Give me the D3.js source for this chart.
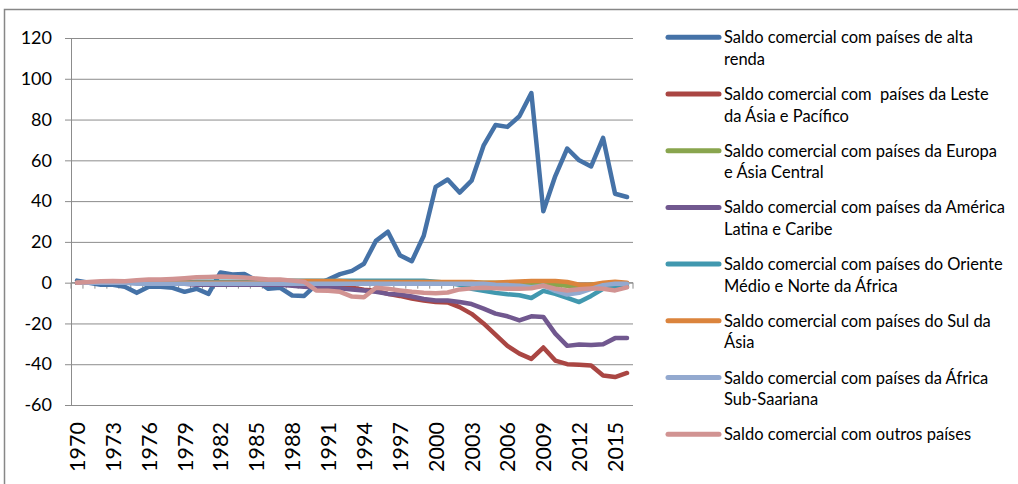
<!DOCTYPE html>
<html>
<head>
<meta charset="utf-8">
<script src="https://cdn.jsdelivr.net/npm/d3@7"></script>
<style>
  html, body { margin: 0; padding: 0; background: #fff; }
  svg { display: block; font-family: Lato, "Open Sans", sans-serif; }
</style>
</head>
<body>
<svg id="chart" width="1018" height="484"></svg>
<script>
// Anos do eixo horizontal (1970–2016)
const years = d3.range(1970, 2017);
const yTicks = [-60, -40, -20, 0, 20, 40, 60, 80, 100, 120];

// Saldo comercial por grupo de países (um valor por ano)
const altaRenda = [1, 0, -1, -1, -2, -5, -2, -2, -2.5, -4.5,
  -3, -5.5, 5, 4, 4.3, 1, -3, -2.5, -6.3, -6.5,
  -1, 1.5, 4.2, 5.8, 9.3, 20.5, 25, 13.5, 10.5, 23,
  47, 50.6, 44.2, 50, 67.2, 77.3, 76.4, 81.6, 93, 35,
  52.3, 65.8, 60, 57, 71, 43.6, 42];
const lesteAsia = [0, 0, 0, 0, 0, 0, 0, 0, 0, 0,
  0, 0, 0, 0, 0, 0, -0.5, -0.5, -0.5, -0.5,
  -0.5, -1, -1.5, -2.5, -3.5, -4, -5.5, -6.5, -7.8, -8.8,
  -9.5, -9.7, -12, -15.3, -20, -25.5, -31, -34.8, -37.4, -31.8,
  -38.2, -40, -40.3, -40.6, -45.5, -46.3, -44.3];
const europaAsiaCentral = [0, 0, 0, 0, 0, 0, 0, 0, 0, 0,
  0, 0, 0, 0, 0, 0, 0, 0, 0, 0,
  0, 0, 0, 0, 0, 0, 0, 0, 0, 0,
  0, 0, 0, 0, 0, 0, 0, -0.5, -1, -1.5,
  -1, -1.5, -2, -1, -0.5, -1.5, -1];
const americaLatina = [0, 0, 0, 0, 0, 0, -0.5, -0.5, -0.5, -0.5,
  -1, -1, -1, -1, -1, -1, -1, -1, -1.5, -2,
  -2.2, -2.3, -2.8, -3.3, -3.8, -4.5, -5.5, -5.8, -6.8, -8,
  -8.7, -8.7, -9.5, -10.5, -12.7, -15.2, -16.5, -18.5, -16.5, -16.8,
  -25, -31, -30.3, -30.6, -30.2, -27.2, -27.2];
const orienteMedio = [0, 0, 0, 0, 0, 0, 0, 0, 0, 0,
  0.5, 0.5, 0.5, 0.5, 0.5, 0.5, 1, 1, 1, 1,
  1, 1, 1, 1, 1, 1, 1, 1, 1, 1,
  0.5, 0, -1, -3, -4, -5, -5.7, -6.2, -7.5, -4,
  -5.5, -7.5, -9.5, -6.5, -3, -2, -2];
const sulAsia = [0, 0, 0, 0, 0, 0, 0, 0, 0, 0,
  0, 0, 0, 0, 0, 0, 0.8, 0.8, 0.8, 0.8,
  0.8, 0.8, 0.8, 0.3, 0.3, 0.3, 0.3, 0.3, 0.3, 0.3,
  0.3, 0.3, 0.3, 0.3, 0, 0, 0.3, 0.6, 0.8, 0.8,
  0.8, 0.3, -1, -1, 0, 0.5, 0];
const africaSubsaariana = [0, 0, 0, 0, 0, -0.5, -0.5, -0.5, -0.5, -0.5,
  -0.5, -0.5, -0.5, -0.5, -0.5, -0.5, -0.5, -0.5, -0.5, -0.5,
  -0.5, -0.5, -0.5, -0.5, -0.5, -0.5, -0.5, -0.5, -0.5, -0.5,
  -0.5, -0.5, -0.5, -0.5, -0.5, -1, -1.2, -1.5, -2.2, -1.5,
  -4, -5.8, -5, -3, -1.2, -0.5, -0.5];
const outros = [0, 0.3, 0.7, 0.8, 0.7, 1.2, 1.5, 1.5, 1.8, 2.2,
  2.6, 2.8, 3, 2.8, 2.5, 2, 1.5, 1.5, 1, 0.5,
  -3.8, -4, -4.5, -6.8, -7.2, -2.5, -3, -3.8, -4.5, -5,
  -5.2, -4.8, -3.3, -2.8, -2.5, -2.8, -3, -3, -2.8, -1.5,
  -3, -3.8, -3.2, -2.8, -3, -3.8, -2.3];

const seriesNames = [
  ["Saldo comercial com países de alta", "renda"],
  ["Saldo comercial com  países da Leste", "da Ásia e Pacífico"],
  ["Saldo comercial com países da Europa", "e Ásia Central"],
  ["Saldo comercial com países da América", "Latina e Caribe"],
  ["Saldo comercial com países do Oriente", "Médio e Norte da África"],
  ["Saldo comercial com países do Sul da", "Ásia"],
  ["Saldo comercial com países da África", "Sub-Saariana"],
  ["Saldo comercial com outros países"]
];
const seriesValues = [altaRenda, lesteAsia, europaAsiaCentral, americaLatina,
  orienteMedio, sulAsia, africaSubsaariana, outros];
const seriesColors = ["#4572A7", "#AA4643", "#89A54E", "#71588F",
  "#4198AF", "#DB843D", "#93A9CF", "#D19392"];

const series = seriesNames.map((name, i) => ({
  name, color: seriesColors[i],
  values: years.map((yr, j) => ({ year: yr, value: seriesValues[i][j] }))
}));

const svg = d3.select("#chart");
const gridColor = "#8c8c8c";

// Moldura do gráfico
svg.append("rect")
  .attr("x", 4.5).attr("y", 9.5)
  .attr("width", 1100).attr("height", 600)
  .attr("fill", "none").attr("stroke", "#878787").attr("stroke-width", 1.5);

const plot = { left: 71, right: 633, top: 38, bottom: 405 };

const x = d3.scaleBand().domain(years).range([plot.left, plot.right]).padding(0);
const y = d3.scaleLinear().domain([-60, 120]).range([plot.bottom, plot.top]);
const cx = d => x(d) + x.bandwidth() / 2;

// Eixo vertical com linhas de grade (hífen simples no sinal negativo)
const yAxis = svg.append("g")
  .attr("transform", `translate(${plot.left},0)`)
  .call(d3.axisLeft(y).tickValues(yTicks).tickFormat(d => String(d))
    .tickSizeInner(-(plot.right - plot.left)).tickSizeOuter(0).tickPadding(19));
yAxis.select(".domain").attr("stroke", gridColor);
yAxis.selectAll(".tick line").attr("stroke", gridColor).attr("x1", -6);
yAxis.selectAll(".tick text")
  .attr("font-family", "Lato, sans-serif").attr("font-size", 18).attr("fill", "#000");

// Eixo horizontal na linha do zero, com marcas entre as categorias
const xAxis = svg.append("g").attr("transform", `translate(0,${y(0)})`);
xAxis.append("line")
  .attr("x1", plot.left).attr("x2", plot.right)
  .attr("stroke", gridColor);
xAxis.selectAll("line.tick")
  .data(years.map(yr => x(yr)).concat([plot.right]))
  .join("line").attr("class", "tick")
  .attr("x1", d => d).attr("x2", d => d)
  .attr("y1", 0).attr("y2", 6)
  .attr("stroke", gridColor);

// Rótulos dos anos (a cada três anos), girados
const labelYears = years.filter(yr => (yr - 1970) % 3 === 0);
svg.append("g").selectAll("text")
  .data(labelYears)
  .join("text")
  .attr("transform", d => `translate(${cx(d) + 8},${plot.bottom + 17}) rotate(-90)`)
  .attr("text-anchor", "end")
  .attr("font-family", "Lato, sans-serif")
  .attr("font-size", 21.5)
  .attr("fill", "#000")
  .text(d => d);

// Linhas das séries
const line = d3.line().x(d => cx(d.year)).y(d => y(d.value));
svg.append("g").selectAll("path")
  .data(series)
  .join("path")
  .attr("d", d => line(d.values))
  .attr("fill", "none")
  .attr("stroke", d => d.color)
  .attr("stroke-width", 4.5)
  .attr("stroke-linejoin", "round")
  .attr("stroke-linecap", "round");

// Legenda
const legend = svg.append("g");
const legendRow = d3.scaleLinear().domain([0, 1]).range([37.3, 94]);
const item = legend.selectAll("g")
  .data(series)
  .join("g")
  .attr("transform", (d, i) => `translate(0,${legendRow(i)})`);
item.append("line")
  .attr("x1", 668).attr("x2", 719)
  .attr("stroke", d => d.color)
  .attr("stroke-width", 5)
  .attr("stroke-linecap", "round");
item.append("text")
  .attr("x", 724)
  .attr("font-family", "Lato, sans-serif")
  .attr("font-size", 16.5)
  .attr("fill", "#000")
  .style("white-space", "pre")
  .selectAll("tspan")
  .data(d => d.name)
  .join("tspan")
  .attr("x", 724)
  .attr("y", (t, j) => 6 + j * 21.5)
  .text(t => t);
</script>
</body>
</html>
